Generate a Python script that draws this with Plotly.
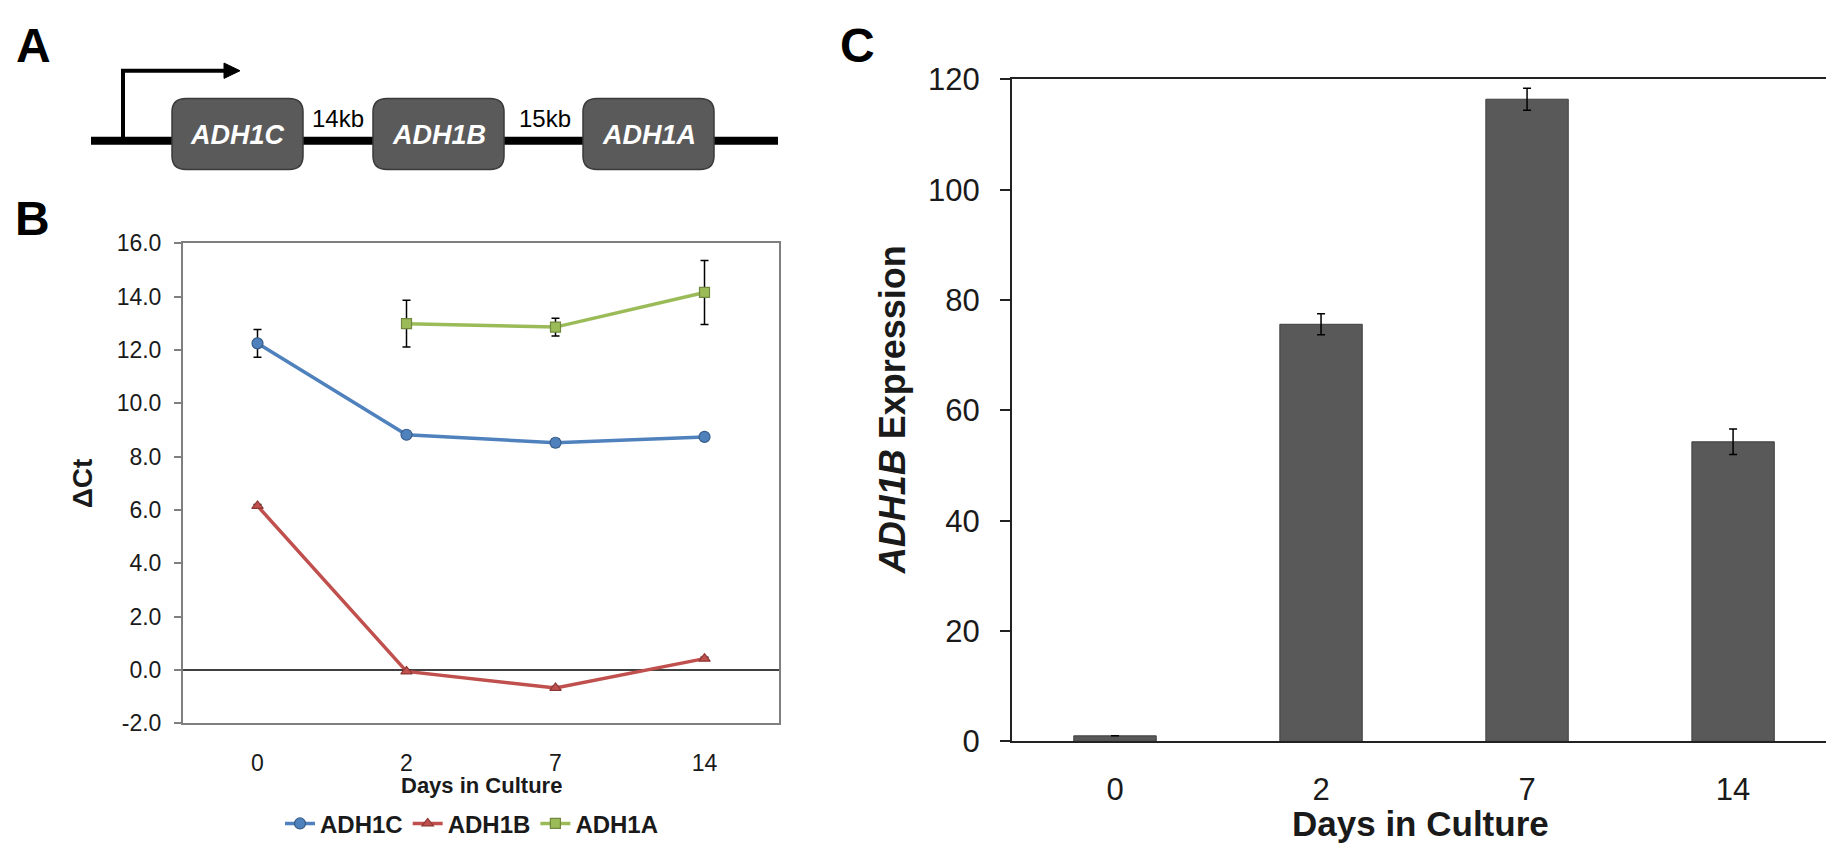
import plotly.graph_objects as go

# ---------------- data ----------------
# Panel A (gene diagram)
genes = ["ADH1C", "ADH1B", "ADH1A"]
gaps = ["14kb", "15kb"]

# Panel B
days = ["0", "2", "7", "14"]
adh1c = [12.25, 8.82, 8.52, 8.74]
adh1c_err = [0.52, 0.08, 0.15, 0.08]
adh1b = [6.15, -0.06, -0.68, 0.42]
adh1b_err = [0.05, 0.05, 0.05, 0.05]
adh1a = [None, 12.99, 12.86, 14.16]
adh1a_err = [0, 0.88, 0.33, 1.2]
b_ticks = [-2, 0, 2, 4, 6, 8, 10, 12, 14, 16]

# Panel C
expr = [1.0, 75.6, 116.4, 54.3]
expr_err = [0.0, 1.9, 2.0, 2.3]
c_ticks = [0, 20, 40, 60, 80, 100, 120]

# ---------------- layout helpers ----------------
W, H = 1826, 862
FONT = "Liberation Sans, Arial, sans-serif"


def px(x):
    return x / W


def py(y):
    return 1 - y / H


fig = go.Figure()

# ---------------- Panel B ----------------
series = [
    ("ADH1C", adh1c, adh1c_err, "#4F81BD", "#385D8A", "circle", 11),
    ("ADH1B", adh1b, adh1b_err, "#C0504D", "#8C3836", "triangle-up", 10),
    ("ADH1A", adh1a, adh1a_err, "#9BBB59", "#71893F", "square", 10),
]
for name, vals, errs, col, edge, sym, msz in series:
    fig.add_trace(go.Scatter(
        x=days, y=vals, name=name, mode="lines+markers",
        line=dict(color=col, width=3.5),
        marker=dict(symbol=sym, size=msz, color=col, line=dict(color=edge, width=1.2)),
        error_y=dict(type="data", array=errs, color="black", thickness=1.5, width=4),
        xaxis="x", yaxis="y", connectgaps=False,
    ))

# ---------------- Panel C ----------------
fig.add_trace(go.Bar(
    x=days, y=expr, width=0.4, showlegend=False,
    marker=dict(color="#595959", line=dict(color="#3f3f3f", width=1)),
    error_y=dict(type="data", array=expr_err, color="black", thickness=1.5, width=4),
    xaxis="x2", yaxis="y2",
))

tickfontB = dict(family=FONT, size=23, color="#1a1a1a")
tickfontC = dict(family=FONT, size=31, color="#1a1a1a")

fig.update_layout(
    width=W, height=H,
    margin=dict(l=0, r=0, t=0, b=0),
    paper_bgcolor="white", plot_bgcolor="white",
    font=dict(family=FONT, color="black"),
    showlegend=True,
    legend=dict(
        orientation="h", x=px(472), xanchor="center", y=py(841), yanchor="middle",
        font=dict(family=FONT, size=24, color="#1a1a1a", weight="bold"),
        bgcolor="rgba(0,0,0,0)", itemwidth=30, tracegroupgap=0,
    ),
    xaxis=dict(
        domain=[px(183), px(779)], anchor="y", type="category",
        categoryorder="array", categoryarray=days, range=[-0.5, 3.5],
        showline=True, linecolor="#7f7f7f", linewidth=2, mirror=True,
        ticks="", showgrid=False, zeroline=False,
        tickfont=tickfontB, ticklabelstandoff=18,
    ),
    yaxis=dict(
        domain=[py(736), py(236)], anchor="x", range=[-2, 16],
        tickvals=b_ticks, ticktext=[f"{v:.1f}" for v in b_ticks],
        ticks="outside", ticklen=7, tickwidth=1.5,
        tickcolor="#7f7f7f", showline=True, linecolor="#7f7f7f", linewidth=2,
        mirror=True, showgrid=False, zeroline=True, zerolinecolor="#404040",
        zerolinewidth=1.5, tickfont=tickfontB, ticklabelstandoff=8,
    ),
    xaxis2=dict(
        domain=[px(1012), 1.0], anchor="y2", type="category",
        categoryorder="array", categoryarray=days, range=[-0.5, 3.451],
        showline=True, linecolor="#222222", linewidth=2, mirror=True,
        ticks="", showgrid=False, zeroline=False,
        tickfont=tickfontC, ticklabelstandoff=19,
    ),
    yaxis2=dict(
        domain=[py(755), py(65)], anchor="x2", range=[0, 120],
        tickvals=c_ticks, ticktext=[str(v) for v in c_ticks],
        ticks="outside", ticklen=10, tickwidth=2, tickcolor="#222222",
        showline=True, linecolor="#222222", linewidth=2, mirror=False,
        showgrid=False, zeroline=False, tickfont=tickfontC, ticklabelstandoff=14,
    ),
)

# ---------------- Panel A: gene diagram (shapes) ----------------
shapes = []
# backbone
shapes.append(dict(type="line", xref="paper", yref="paper",
                   x0=px(91), y0=py(129), x1=px(778), y1=py(129),
                   line=dict(color="black", width=8)))
# promoter arrow
shapes.append(dict(type="line", xref="paper", yref="paper",
                   x0=px(123), y0=py(129), x1=px(123), y1=py(56),
                   line=dict(color="black", width=4)))
shapes.append(dict(type="line", xref="paper", yref="paper",
                   x0=px(121), y0=py(56), x1=px(226), y1=py(56),
                   line=dict(color="black", width=4)))
shapes.append(dict(type="path", xref="paper", yref="paper",
                   path=f"M {px(224)},{py(48)} L {px(240)},{py(56)} L {px(224)},{py(64)} Z",
                   fillcolor="black", line=dict(color="black", width=1)))

box_left = [172, 373, 583]
box_w, box_top, box_bot, r = 131, 85, 159, 14


def rounded(x0, y0, x1, y1, rad):
    return (f"M {px(x0 + rad)},{py(y0)} L {px(x1 - rad)},{py(y0)} "
            f"Q {px(x1)},{py(y0)} {px(x1)},{py(y0 + rad)} "
            f"L {px(x1)},{py(y1 - rad)} Q {px(x1)},{py(y1)} {px(x1 - rad)},{py(y1)} "
            f"L {px(x0 + rad)},{py(y1)} Q {px(x0)},{py(y1)} {px(x0)},{py(y1 - rad)} "
            f"L {px(x0)},{py(y0 + rad)} Q {px(x0)},{py(y0)} {px(x0 + rad)},{py(y0)} Z")


annotations = []
for g, xl in zip(genes, box_left):
    shapes.append(dict(type="path", xref="paper", yref="paper",
                       path=rounded(xl, box_top, xl + box_w, box_bot, r),
                       fillcolor="#5a5a5a", line=dict(color="#3a3a3a", width=1.5)))
    annotations.append(dict(xref="paper", yref="paper", x=px(xl + box_w / 2), y=py(123),
                            text=f"<b><i>{g}</i></b>", showarrow=False,
                            font=dict(family=FONT, size=27, color="white"),
                            xanchor="center", yanchor="middle"))
for gp, xc in zip(gaps, [338, 545]):
    annotations.append(dict(xref="paper", yref="paper", x=px(xc), y=py(106),
                            text=gp, showarrow=False,
                            font=dict(family=FONT, size=24, color="black"),
                            xanchor="center", yanchor="middle"))

# panel letters
for letter, (lx, ly) in zip(["A", "B", "C"], [(33, 30), (32, 210), (857, 30)]):
    annotations.append(dict(xref="paper", yref="paper", x=px(lx), y=py(ly),
                            text=f"<b>{letter}</b>", showarrow=False,
                            font=dict(family=FONT, size=48, color="black"),
                            xanchor="center", yanchor="middle"))

# axis titles
annotations += [
    dict(xref="paper", yref="paper", x=px(82), y=py(486), text="<b>ΔCt</b>",
         textangle=-90, showarrow=False, font=dict(family=FONT, size=28, color="#1a1a1a"),
         xanchor="center", yanchor="middle"),
    dict(xref="paper", yref="paper", x=px(481), y=py(801), text="<b>Days in Culture</b>",
         showarrow=False, font=dict(family=FONT, size=22, color="#1a1a1a"),
         xanchor="center", yanchor="middle"),
    dict(xref="paper", yref="paper", x=px(892), y=py(410),
         text="<b><i>ADH1B</i> Expression</b>", textangle=-90, showarrow=False,
         font=dict(family=FONT, size=36, color="#1a1a1a"),
         xanchor="center", yanchor="middle"),
    dict(xref="paper", yref="paper", x=px(1420), y=py(841), text="<b>Days in Culture</b>",
         showarrow=False, font=dict(family=FONT, size=35, color="#1a1a1a"),
         xanchor="center", yanchor="middle"),
]

fig.update_layout(shapes=shapes, annotations=annotations)

fig.write_html("out.html")
